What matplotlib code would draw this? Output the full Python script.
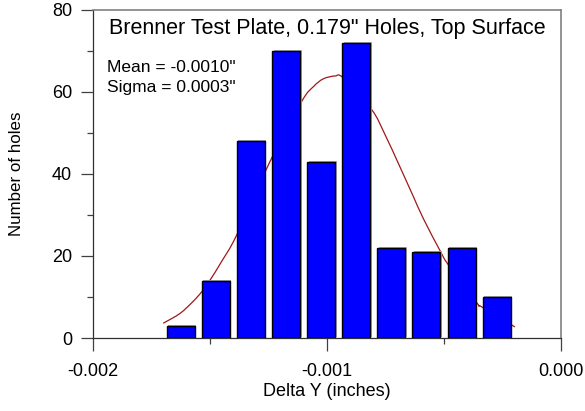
import matplotlib
matplotlib.use("Agg")
import matplotlib.pyplot as plt
from matplotlib.path import Path
from matplotlib.patches import PathPatch
import matplotlib.transforms as mtransforms
from matplotlib.ticker import MultipleLocator, FixedFormatter, FixedLocator

plt.rcParams['font.family'] = ['Liberation Sans', 'DejaVu Sans']

# --- data ---
bin_centers = [-0.001625, -0.001475, -0.001325, -0.001175, -0.001025,
               -0.000875, -0.000725, -0.000575, -0.000425, -0.000275]
counts = [3, 14, 48, 70, 43, 72, 22, 21, 22, 10]

curve_x = [-0.001700, -0.001628, -0.001571, -0.001535, -0.001500, -0.001450,
           -0.001386, -0.001244, -0.001108, -0.001058, -0.001016,
           -0.000966, -0.000930, -0.000809, -0.000752, -0.000688, -0.000631,
           -0.000588, -0.000517, -0.000482, -0.000360, -0.000339, -0.000197]
curve_y = [3.6, 6.0, 9.0, 11.3, 14.1, 18.7, 25.1, 43.0, 57.7, 61.3, 63.2,
           63.9, 63.4, 55.7, 49.6, 41.7, 34.5, 29.1, 21.3, 17.9, 8.6, 7.6, 2.7]

x_ticks = [-0.002, -0.001, 0.000]
x_tick_labels = ["-0.002", "-0.001", "0.000"]
y_ticks = [0, 20, 40, 60, 80]

title = 'Brenner Test Plate, 0.179" Holes, Top Surface'
stats_lines = ['Mean = -0.0010"', 'Sigma = 0.0003"']

fig = plt.figure(figsize=(5.85, 4.11), dpi=100)
ax = fig.add_axes([93/585, 73/411, 468/585, 328/411])

# smooth curve through read points (Catmull-Rom rendered as cubic Beziers)
pts = list(zip(curve_x, curve_y))
verts = [pts[0]]
codes = [Path.MOVETO]
n = len(pts)
for i in range(n - 1):
    p0 = pts[i - 1] if i > 0 else pts[i]
    p1 = pts[i]
    p2 = pts[i + 1]
    p3 = pts[i + 2] if i + 2 < n else pts[i + 1]
    c1 = (p1[0] + (p2[0] - p0[0]) / 6, p1[1] + (p2[1] - p0[1]) / 6)
    c2 = (p2[0] - (p3[0] - p1[0]) / 6, p2[1] - (p3[1] - p1[1]) / 6)
    verts += [c1, c2, p2]
    codes += [Path.CURVE4] * 3
ax.add_patch(PathPatch(Path(verts, codes), facecolor='none',
                       edgecolor='#A01818', lw=0.9, zorder=1))

bar_w = 0.00012
shadow = mtransforms.offset_copy(ax.transData, fig=fig, x=1.5, y=1.0, units='dots')
ax.bar(bin_centers, counts, width=bar_w, color='#A8A8A8', edgecolor='none',
       transform=shadow, zorder=2)
ax.bar(bin_centers, counts, width=bar_w, color='#0000FF', edgecolor='black',
       linewidth=1.0, zorder=3)

ax.set_xlim(-0.002, 0.0)
ax.set_ylim(0, 80)
ax.xaxis.set_major_locator(FixedLocator(x_ticks))
ax.xaxis.set_major_formatter(FixedFormatter(x_tick_labels))
ax.xaxis.set_minor_locator(MultipleLocator(0.0005))
ax.yaxis.set_major_locator(FixedLocator(y_ticks))
ax.yaxis.set_minor_locator(MultipleLocator(10))

ax.tick_params(axis='both', which='major', length=9, width=0.9, color='#404040',
               labelsize=13)
ax.tick_params(axis='both', which='minor', length=4, width=0.9, color='#404040')
ax.tick_params(axis='x', which='major', pad=9)
ax.tick_params(axis='y', which='major', pad=6)

for s in ['left', 'bottom']:
    ax.spines[s].set_color('#303030')
    ax.spines[s].set_linewidth(0.9)
for s in ['top', 'right']:
    ax.spines[s].set_color('#808080')
    ax.spines[s].set_linewidth(1.2)

ax.set_xlabel('Delta Y (inches)', fontsize=13)
ax.set_ylabel('Number of holes', fontsize=12.2)
ax.xaxis.set_label_coords(0.5, -0.137)
ax.yaxis.set_label_coords(-0.147, 0.5)

ax.text(0.5, 0.945, title, transform=ax.transAxes, ha='center', va='center',
        fontsize=15.5)
ax.text(0.03, 0.826, stats_lines[0], transform=ax.transAxes, ha='left',
        va='center', fontsize=12.5)
ax.text(0.03, 0.765, stats_lines[1], transform=ax.transAxes, ha='left',
        va='center', fontsize=12.5)

fig.savefig('out.png', dpi=100)
